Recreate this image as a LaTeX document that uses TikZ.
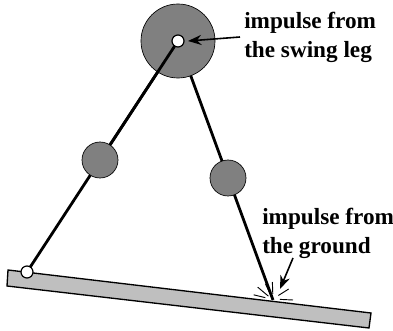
\documentclass[tikz,border=0pt]{standalone}
\usepackage{fontspec}
\setmainfont{Liberation Serif}
\usepackage{tikz}
\usetikzlibrary{calc, arrows.meta}
\begin{document}
\begin{tikzpicture}[x=.75pt, y=-.75pt,
        % Define styles for the masses, the legs and the labels
        mass/.style={fill=black!50, draw=black, circle, inner sep=0pt, line width=.5pt},
        pivot/.style={fill=white, draw=black, circle, minimum size=9pt, inner sep=0pt, line width=.9pt},
        leg/.style={line width=2.1pt},
        spark/.style={line width=.7pt},
        pointer/.style={-{Stealth[length=10pt,width=7.5pt]}, line width=1.2pt},
        caption/.style={font=\fontsize{17.4}{21.5}\selectfont\bfseries, align=left, anchor=north west, inner sep=0pt}]

        \useasboundingbox (0, 0) rectangle (393, 331);

        % 1. Define the coordinates for the joints
        \coordinate (Hip) at (178, 41);
        \coordinate (Stance) at (27, 272);
        \coordinate (Foot) at (273, 300);

        % 2. Draw the ground
        \draw[fill=black!25, line width=1pt] (8, 270) -- (371, 313) -- (369, 328) -- (7, 286) -- cycle;

        % 3. Draw the two legs under the masses
        \draw[leg] (Stance) -- (Hip);
        \draw[leg] (Hip) -- (Foot);

        % 4. Mark the masses
        \node[mass, minimum size=55.5pt] (HipMass) at (Hip) {};
        \node[mass, minimum size=27pt] (KneeA) at (100, 160) {};
        \node[mass, minimum size=27pt] (KneeB) at (228, 178) {};

        % 5. Redraw the upper part of the stance leg, then the pivots
        \draw[leg] (KneeA) -- (Hip);
        \node[pivot] (HipPivot) at (Hip) {};
        \node[pivot] (StancePivot) at (Stance) {};

        % 6. Labels and arrows
        \node[caption] (SwingLabel) at (244, 12) {impulse from\\the swing leg};
        \node[caption] (GroundLabel) at (262, 208) {impulse from\\the ground};
        \coordinate (SwingTail) at (240, 37);
        \coordinate (SwingTip) at (188, 41);
        \coordinate (GroundTail) at (293, 258);
        \coordinate (GroundTip) at (280, 289);
        \draw[pointer] (SwingTail) -- (SwingTip);
        \draw[pointer] (GroundTail) -- (GroundTip);

        % 7. Mark the impact on the ground
        \foreach \angA/\angB/\radA/\radB in {-163/-165/8/20, -140/-140/6/20, -115/-115/8/18, -92/-92/6/18, -40/-35/7/19, -5/0/7/20}
            \draw[spark] ($(Foot)+(\angA:\radA)$) -- ($(Foot)+(\angB:\radB)$);

    \end{tikzpicture}
\end{document}
